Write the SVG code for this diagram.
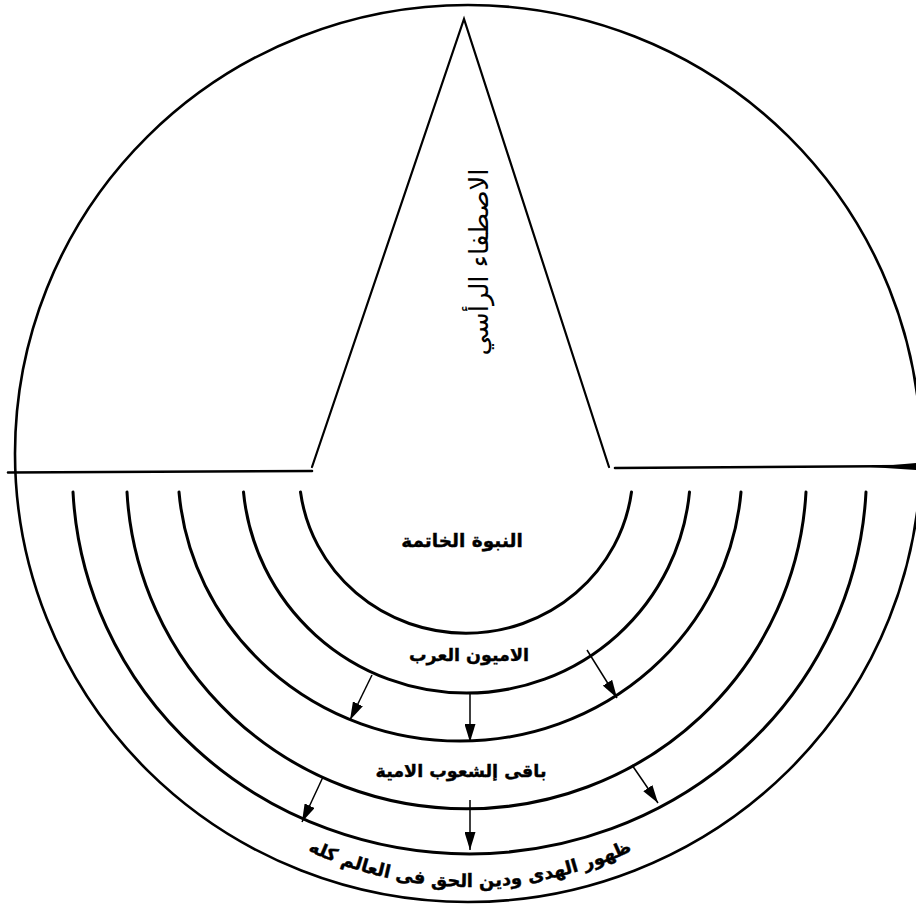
<svg xmlns="http://www.w3.org/2000/svg" width="916" height="908" viewBox="0 0 916 908">
<style>
.ln{fill:none;stroke:#000;stroke-linecap:round}
.arc{fill:none;stroke:#000;stroke-width:3;stroke-linecap:round}
.arr{fill:none;stroke:#000;stroke-width:1.5}
.lbl{font-family:"DejaVu Sans",sans-serif;font-weight:bold;fill:#000;stroke:#000;stroke-width:0.4;text-anchor:middle}
</style>
<defs>
<marker id="ah" markerUnits="userSpaceOnUse" viewBox="0 0 18 11" markerWidth="18" markerHeight="11" refX="18" refY="5.5" orient="auto">
<path d="M0,0 L18,5.5 L0,11 z" fill="#000"/>
</marker>
<path id="tp" d="M 90,507 A 380 380 0 0 0 850,507"/>
</defs>
<rect width="916" height="908" fill="#fff"/>
<g id="outer">
<ellipse cx="468" cy="453.5" rx="453" ry="448.5" class="ln" stroke-width="2.6"/>
</g>
<g id="horizon">
<path d="M8,472.5 L312,471" class="ln" stroke-width="2.6"/>
<path d="M615,468 L916,466" class="ln" stroke-width="2.6"/>
<path d="M870,467 L916,463 L916,470 z" fill="#000"/>
</g>
<g id="triangle">
<path d="M312,467 L464,19 L609,467" class="ln" stroke-width="2.2" stroke-linejoin="miter"/>
<text transform="translate(480,262) rotate(-90)" style="font-family:'DejaVu Sans',sans-serif;font-size:26px;fill:#000;text-anchor:middle" dominant-baseline="middle">الاصطفاء الرأسي</text>
</g>
<g id="rings">
<path d="M300.5,492 A167 163 0 0 0 631.5,492" class="arc"/>
<path d="M243.5,492 A224 222 0 0 0 689.5,492" class="arc"/>
<path d="M179,492 A282 272 0 0 0 741,492" class="arc"/>
<path d="M127,492 A340 335 0 0 0 806,492" class="arc"/>
<path d="M73,492 A397 381 0 0 0 866,492" class="arc"/>
</g>
<g id="n1"><text class="lbl" x="462" y="547" font-size="18.5">النبوة الخاتمة</text></g>
<g id="n2"><text class="lbl" x="469" y="661" font-size="17.5">الاميون العرب</text></g>
<g id="n3"><text class="lbl" x="461" y="777" font-size="17.5">باقى إلشعوب الامية</text></g>
<g id="n4"><text class="lbl" font-size="18"><textPath href="#tp" startOffset="50%">ظهور الهدى ودين الحق فى العالم كله</textPath></text></g>
<g id="connectors">
<path d="M372,675 L350,720" class="arr" marker-end="url(#ah)"/>
<path d="M470,693 L470,742" class="arr" marker-end="url(#ah)"/>
<path d="M587,650 L617,698" class="arr" marker-end="url(#ah)"/>
<path d="M323,777 L302,822" class="arr" marker-end="url(#ah)"/>
<path d="M470,800 L470,850" class="arr" marker-end="url(#ah)"/>
<path d="M632,765 L658,803" class="arr" marker-end="url(#ah)"/>
</g>
</svg>
